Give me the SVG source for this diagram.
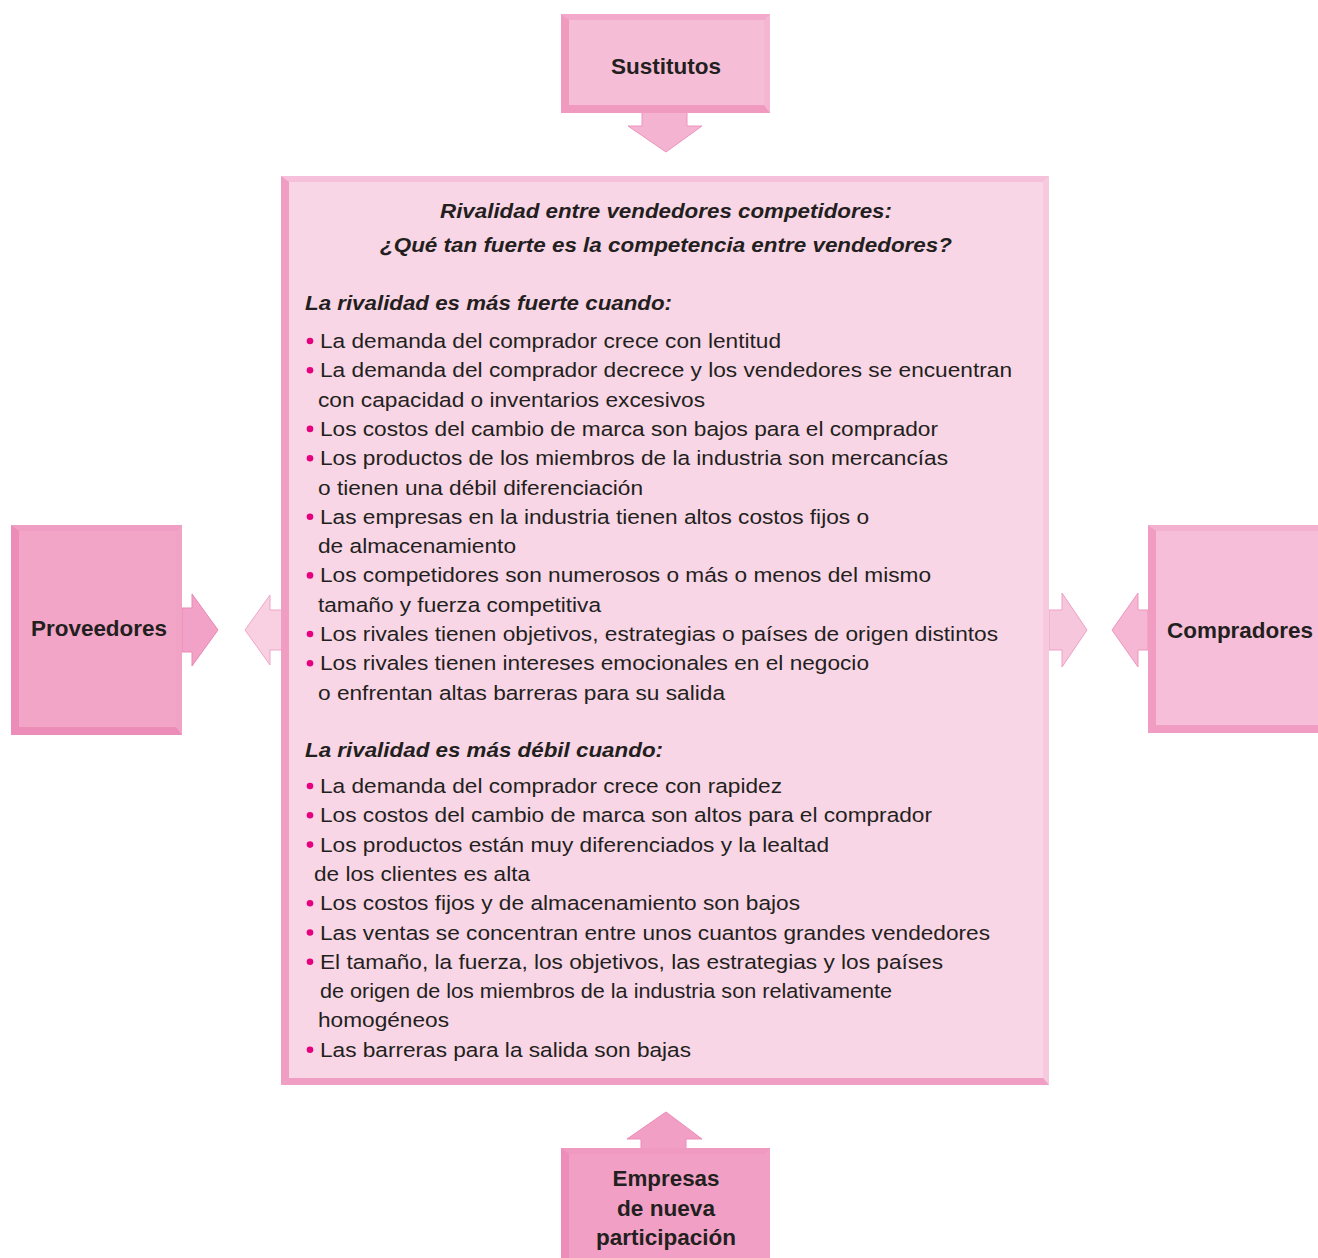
<svg xmlns="http://www.w3.org/2000/svg" width="1318" height="1258" viewBox="0 0 1318 1258">
<style>
.lbl{font-family:"Liberation Sans",Arial,Helvetica,sans-serif;font-weight:bold;font-size:22.5px;fill:#231f20;text-anchor:middle}
.ttl{font-family:"Liberation Sans",Arial,Helvetica,sans-serif;font-weight:bold;font-style:italic;font-size:20.5px;fill:#231f20}
.txt{font-family:"Liberation Sans",Arial,Helvetica,sans-serif;font-size:20.5px;fill:#231f20}
.dot{fill:#e6007e}
</style>
<rect width="1318" height="1258" fill="#ffffff"/>

<g id="connectors">
  <polygon points="642,112 687,112 687,126 702,126 666,152 628,126 642,126" fill="#f4b3d0" stroke="#ee94bd" stroke-width="1"/>
  <polygon points="182,608 192,608 192,594 218,630 192,666 192,652 182,652" fill="#f1a2c6" stroke="#ea88b5" stroke-width="1"/>
  <polygon points="282,610 270,610 270,595 245,630 270,665 270,650 282,650" fill="#f8d0e2" stroke="#f0a6c8" stroke-width="1"/>
  <polygon points="1049,610 1062,610 1062,593 1087,630 1062,667 1062,650 1049,650" fill="#f6c6dc" stroke="#ef9fc5" stroke-width="1"/>
  <polygon points="1148,610 1138,610 1138,593 1112,630 1138,667 1138,650 1148,650" fill="#f5b7d3" stroke="#ee96bf" stroke-width="1"/>
  <polygon points="641,1149 686,1149 686,1139 702,1139 666,1112 627,1139 641,1139" fill="#f29fc5" stroke="#ec8bb8" stroke-width="1"/>
</g>

<g id="sustitutos">
  <rect x="561" y="14" width="209" height="99" fill="#f09ac0"/>
  <polygon points="561,14 770,14 764,20 569,20" fill="#f3a9cb"/>
  <polygon points="770,14 770,113 764,105 764,20" fill="#f5b6d2"/>
  <rect x="569" y="20" width="195" height="85" fill="#f6bdd7"/>
  <text class="lbl" x="666" y="74" textLength="110" lengthAdjust="spacingAndGlyphs">Sustitutos</text>
</g>

<g id="rivalidad">
  <rect x="281" y="176" width="768" height="909" fill="#f6c0da"/>
  <polygon points="1049,176 1049,1085 1043,1078 1043,182" fill="#f7c9de"/>
  <polygon points="281,176 289,182 289,1078 281,1085" fill="#ef9dc3"/>
  <polygon points="281,1085 289,1078 1043,1078 1049,1085" fill="#f09ec4"/>
  <rect x="289" y="182" width="754" height="896" fill="#f9d6e6"/>
  <g lengthAdjust="spacingAndGlyphs">
  <text class="ttl" x="440" y="218" textLength="452" lengthAdjust="spacingAndGlyphs">Rivalidad entre vendedores competidores:</text>
  <text class="ttl" x="380" y="252" textLength="572" lengthAdjust="spacingAndGlyphs">¿Qué tan fuerte es la competencia entre vendedores?</text>
  <text class="ttl" x="305" y="310" textLength="367" lengthAdjust="spacingAndGlyphs">La rivalidad es más fuerte cuando:</text>
  </g>
  <g class="dot">
    <circle cx="310" cy="341" r="3.3"/><circle cx="310" cy="370.3" r="3.3"/>
    <circle cx="310" cy="428.9" r="3.3"/><circle cx="310" cy="458.2" r="3.3"/>
    <circle cx="310" cy="516.8" r="3.3"/><circle cx="310" cy="575.4" r="3.3"/>
    <circle cx="310" cy="634" r="3.3"/><circle cx="310" cy="663.3" r="3.3"/>
    <circle cx="310" cy="786" r="3.3"/><circle cx="310" cy="815.3" r="3.3"/>
    <circle cx="310" cy="844.6" r="3.3"/><circle cx="310" cy="903.2" r="3.3"/>
    <circle cx="310" cy="932.5" r="3.3"/><circle cx="310" cy="961.8" r="3.3"/>
    <circle cx="310" cy="1049.7" r="3.3"/>
  </g>
  <text class="txt" x="320" y="348" textLength="461" lengthAdjust="spacingAndGlyphs">La demanda del comprador crece con lentitud</text>
  <text class="txt" x="320" y="377.3" textLength="692" lengthAdjust="spacingAndGlyphs">La demanda del comprador decrece y los vendedores se encuentran</text>
  <text class="txt" x="318" y="406.6" textLength="387" lengthAdjust="spacingAndGlyphs">con capacidad o inventarios excesivos</text>
  <text class="txt" x="320" y="435.9" textLength="618" lengthAdjust="spacingAndGlyphs">Los costos del cambio de marca son bajos para el comprador</text>
  <text class="txt" x="320" y="465.2" textLength="628" lengthAdjust="spacingAndGlyphs">Los productos de los miembros de la industria son mercancías</text>
  <text class="txt" x="318" y="494.5" textLength="325" lengthAdjust="spacingAndGlyphs">o tienen una débil diferenciación</text>
  <text class="txt" x="320" y="523.8" textLength="549" lengthAdjust="spacingAndGlyphs">Las empresas en la industria tienen altos costos fijos o</text>
  <text class="txt" x="318" y="553.1" textLength="198" lengthAdjust="spacingAndGlyphs">de almacenamiento</text>
  <text class="txt" x="320" y="582.4" textLength="611" lengthAdjust="spacingAndGlyphs">Los competidores son numerosos o más o menos del mismo</text>
  <text class="txt" x="318" y="611.7" textLength="283" lengthAdjust="spacingAndGlyphs">tamaño y fuerza competitiva</text>
  <text class="txt" x="320" y="641" textLength="678" lengthAdjust="spacingAndGlyphs">Los rivales tienen objetivos, estrategias o países de origen distintos</text>
  <text class="txt" x="320" y="670.3" textLength="549" lengthAdjust="spacingAndGlyphs">Los rivales tienen intereses emocionales en el negocio</text>
  <text class="txt" x="318" y="699.6" textLength="407" lengthAdjust="spacingAndGlyphs">o enfrentan altas barreras para su salida</text>
  <text class="ttl" x="305" y="757" textLength="358" lengthAdjust="spacingAndGlyphs">La rivalidad es más débil cuando:</text>
  <text class="txt" x="320" y="793" textLength="462" lengthAdjust="spacingAndGlyphs">La demanda del comprador crece con rapidez</text>
  <text class="txt" x="320" y="822.3" textLength="612" lengthAdjust="spacingAndGlyphs">Los costos del cambio de marca son altos para el comprador</text>
  <text class="txt" x="320" y="851.6" textLength="509" lengthAdjust="spacingAndGlyphs">Los productos están muy diferenciados y la lealtad</text>
  <text class="txt" x="314" y="880.9" textLength="216" lengthAdjust="spacingAndGlyphs">de los clientes es alta</text>
  <text class="txt" x="320" y="910.2" textLength="480" lengthAdjust="spacingAndGlyphs">Los costos fijos y de almacenamiento son bajos</text>
  <text class="txt" x="320" y="939.5" textLength="670" lengthAdjust="spacingAndGlyphs">Las ventas se concentran entre unos cuantos grandes vendedores</text>
  <text class="txt" x="320" y="968.8" textLength="623" lengthAdjust="spacingAndGlyphs">El tamaño, la fuerza, los objetivos, las estrategias y los países</text>
  <text class="txt" x="320" y="998.1" textLength="572" lengthAdjust="spacingAndGlyphs">de origen de los miembros de la industria son relativamente</text>
  <text class="txt" x="318" y="1027.4" textLength="131" lengthAdjust="spacingAndGlyphs">homogéneos</text>
  <text class="txt" x="320" y="1056.7" textLength="371" lengthAdjust="spacingAndGlyphs">Las barreras para la salida son bajas</text>
</g>

<g id="proveedores">
  <rect x="11" y="525" width="171" height="210" fill="#ec8cb8"/>
  <polygon points="11,525 182,525 176,531 19,531" fill="#f09ec3"/>
  <polygon points="182,525 182,735 176,727 176,531" fill="#f1a3c6"/>
  <rect x="19" y="531" width="157" height="196" fill="#f2a5c7"/>
  <text class="lbl" x="99" y="636" textLength="136" lengthAdjust="spacingAndGlyphs">Proveedores</text>
</g>

<g id="compradores">
  <rect x="1148" y="525" width="175" height="208" fill="#f09cc3"/>
  <polygon points="1148,525 1323,525 1323,531 1156,531" fill="#f4b1cf"/>
  <rect x="1156" y="531" width="167" height="194" fill="#f6bed8"/>
  <text class="lbl" x="1240" y="638" textLength="146" lengthAdjust="spacingAndGlyphs">Compradores</text>
</g>

<g id="empresas">
  <rect x="561" y="1148" width="209" height="114" fill="#ee8dba"/>
  <polygon points="561,1148 770,1148 764,1154 569,1154" fill="#f09ac1"/>
  <polygon points="770,1148 770,1262 764,1262 764,1154" fill="#f19fc5"/>
  <rect x="569" y="1154" width="195" height="108" fill="#f29fc5"/>
  <text class="lbl" x="666" y="1186" textLength="107" lengthAdjust="spacingAndGlyphs">Empresas</text>
  <text class="lbl" x="666" y="1216" textLength="98" lengthAdjust="spacingAndGlyphs">de nueva</text>
  <text class="lbl" x="666" y="1245" textLength="140" lengthAdjust="spacingAndGlyphs">participación</text>
</g>
</svg>
